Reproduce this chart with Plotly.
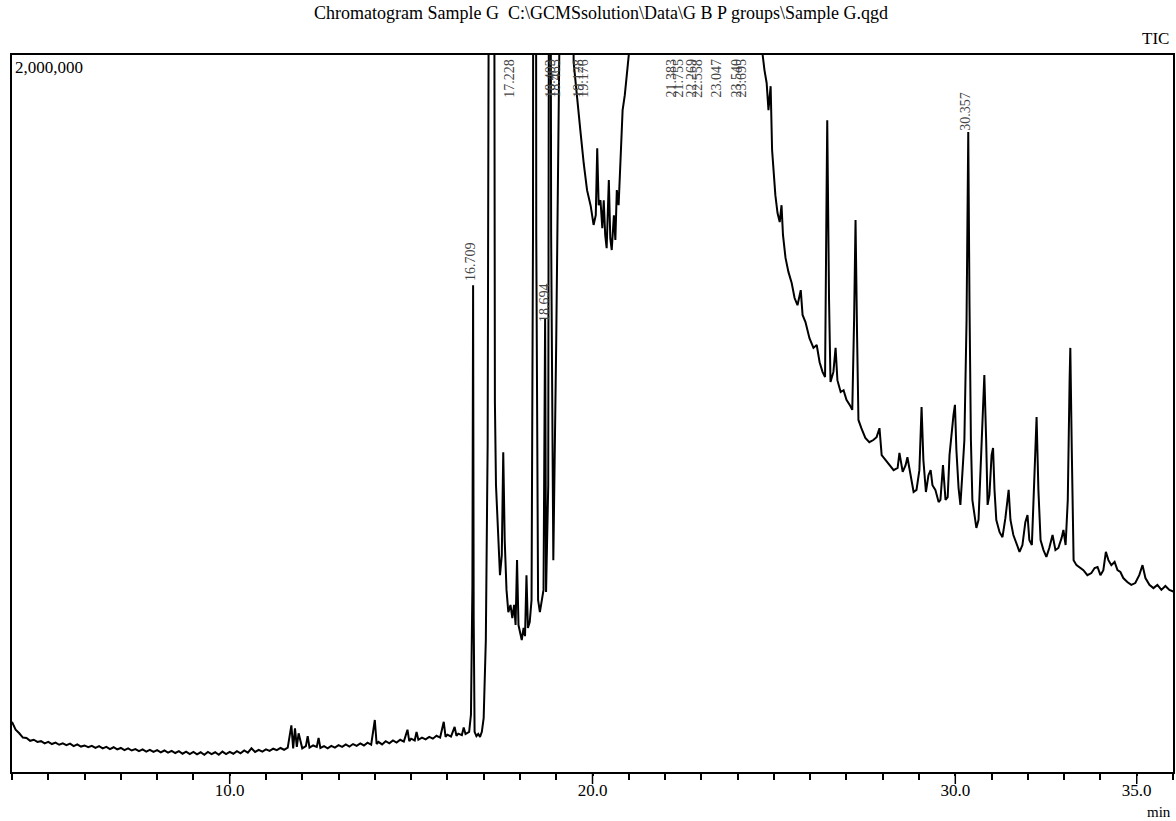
import plotly.graph_objects as go

# ---- chromatogram values (time in min, intensity in thousand counts) ----
early_t = [4.0, 4.1, 4.2, 4.3, 4.4, 4.5, 4.6, 4.7, 4.8, 4.9, 5.0, 5.1, 5.2, 5.3, 5.4, 5.5, 5.6, 5.7, 5.8, 5.9,
           6.0, 6.1, 6.2, 6.3, 6.4, 6.5, 6.6, 6.7, 6.8, 6.9, 7.0, 7.1, 7.2, 7.3, 7.4, 7.5, 7.6, 7.7, 7.8, 7.9,
           8.0, 8.1, 8.2, 8.3, 8.4, 8.5, 8.6, 8.7, 8.8, 8.9, 9.0, 9.1, 9.2, 9.3, 9.4, 9.5, 9.6, 9.7, 9.8, 9.9,
           10.0, 10.1, 10.2, 10.3, 10.4, 10.5, 10.6, 10.7, 10.8, 10.9, 11.0, 11.1, 11.2, 11.3, 11.4, 11.5, 11.6,
           11.7, 11.75, 11.8, 11.85, 11.9, 12.0, 12.1, 12.15, 12.2, 12.3, 12.4, 12.45, 12.5, 12.6, 12.7, 12.8,
           12.9, 13.0, 13.1, 13.2, 13.3, 13.4, 13.5, 13.6, 13.7, 13.8, 13.9, 14.0, 14.05, 14.1, 14.2, 14.3, 14.4,
           14.5, 14.6, 14.7, 14.8, 14.9, 14.95, 15.0, 15.1, 15.15, 15.2, 15.3, 15.4, 15.5, 15.6, 15.7, 15.8, 15.9,
           15.95, 16.0, 16.1, 16.2, 16.25, 16.3, 16.4, 16.45, 16.5, 16.6]
early_k = [140, 118, 108, 96, 95, 87, 90, 84, 86, 80, 84, 78, 82, 76, 80, 75, 79, 72, 77, 71,
           74, 69, 73, 67, 72, 66, 70, 64, 69, 63, 67, 61, 66, 60, 64, 58, 63, 57, 62, 56,
           61, 55, 60, 54, 59, 53, 58, 51, 57, 50, 56, 49, 55, 48, 56, 50, 55, 48, 57, 50,
           56, 51, 58, 52, 60, 54, 66, 56, 62, 57, 63, 59, 65, 61, 67, 62, 68,
           130, 66, 122, 70, 108, 66, 72, 100, 68, 74, 70, 95, 67, 72, 66, 73,
           68, 75, 70, 77, 71, 78, 73, 80, 74, 82, 76, 145, 78, 84, 77, 86, 80,
           88, 82, 90, 85, 118, 86, 93, 88, 112, 90, 96, 91, 98, 93, 101, 96, 140,
           98, 104, 99, 126, 101, 107, 103, 124, 106, 112]

cluster_t = [16.65, 16.69, 16.709, 16.725, 16.75, 16.8, 16.85, 16.9, 16.95, 17.0, 17.06, 17.11, 17.15, 17.228,
             17.29, 17.31, 17.34, 17.4, 17.45, 17.5, 17.54, 17.58, 17.63, 17.68, 17.74, 17.79, 17.84, 17.88,
             17.92, 17.96, 18.0, 18.05, 18.1, 18.14, 18.18, 18.22, 18.27, 18.32, 18.36, 18.403, 18.45, 18.5,
             18.55, 18.6, 18.65, 18.694, 18.72, 18.78, 18.82, 18.86, 18.92, 19.0, 19.08, 19.12, 19.2, 19.3,
             19.4, 19.48, 19.59, 19.67, 19.76, 19.85, 19.95, 20.03, 20.09, 20.13, 20.17, 20.22, 20.27, 20.31,
             20.35, 20.39, 20.45, 20.49, 20.53, 20.59, 20.63, 20.67, 20.72, 20.78, 20.83, 20.89, 20.94, 21.0, 21.08]
cluster_k = [160, 520, 1358, 430, 112, 100, 106, 98, 112, 150, 368, 915, 2500, 6000,
             2500, 1032, 800, 633, 549, 605, 892, 647, 508, 446, 466, 429, 466, 410,
             591, 410, 390, 368, 402, 379, 549, 402, 418, 480, 1500, 8000, 1500, 480,
             446, 485, 508, 1266, 502, 800, 4000, 1500, 591, 1200, 1900, 2100, 4000, 5000,
             5000, 1980, 1877, 1785, 1696, 1623, 1579, 1526, 1553, 1740, 1581, 1595, 1517, 1595,
             1498, 1461, 1651, 1489, 1456, 1553, 1484, 1623, 1581, 1735, 1846, 1888, 1944, 2000, 2300]

offscale_t = [21.3, 21.383, 21.755, 22.2, 22.5, 23.047, 23.5, 23.695, 24.2, 24.55]
offscale_k = [3500, 4200, 4800, 5200, 5400, 5000, 4200, 3800, 3000, 2300]

late_t = [24.69, 24.74, 24.80, 24.85, 24.91, 24.95, 24.99, 25.04, 25.10, 25.16, 25.21, 25.25, 25.32, 25.40,
          25.49, 25.57, 25.65, 25.74, 25.79, 25.87, 25.98, 26.09, 26.18, 26.26, 26.34, 26.41, 26.45, 26.47,
          26.52, 26.56, 26.64, 26.70, 26.75, 26.84, 26.92, 27.00, 27.09, 27.16, 27.21, 27.25, 27.29, 27.33,
          27.41, 27.52, 27.63, 27.74, 27.83, 27.91, 27.97, 28.08, 28.19, 28.30, 28.41, 28.46, 28.55, 28.63,
          28.68, 28.77, 28.85, 28.93, 29.01, 29.07, 29.12, 29.19, 29.26, 29.32, 29.37, 29.45, 29.54, 29.59,
          29.66, 29.73, 29.79, 29.84, 29.90, 29.95, 29.99, 30.03, 30.09, 30.14, 30.20, 30.25, 30.31, 30.357,
          30.39, 30.43, 30.47, 30.53, 30.58, 30.64, 30.69, 30.75, 30.80, 30.85, 30.89, 30.94, 31.00, 31.04,
          31.08, 31.13, 31.22, 31.30, 31.38, 31.47, 31.52, 31.60, 31.69, 31.77, 31.85, 31.93, 31.99, 32.04,
          32.11, 32.18, 32.24, 32.29, 32.35, 32.43, 32.51, 32.59, 32.68, 32.76, 32.84, 32.93, 32.98, 33.04,
          33.10, 33.15, 33.17, 33.21, 33.26, 33.34, 33.42, 33.53, 33.64, 33.75, 33.84, 33.92, 34.00, 34.08,
          34.15, 34.22, 34.30, 34.39, 34.47, 34.55, 34.63, 34.74, 34.85, 34.96, 35.07, 35.16, 35.24, 35.35,
          35.46, 35.57, 35.68, 35.79, 35.90, 36.04]
late_k = [2000, 1958, 1922, 1846, 1913, 1735, 1665, 1609, 1559, 1534, 1581, 1498, 1434, 1395,
          1364, 1322, 1302, 1344, 1275, 1255, 1210, 1183, 1191, 1143, 1116, 1102, 1595, 1818,
          1316, 1088, 1116, 1183, 1093, 1060, 1065, 1038, 1024, 1010, 1261, 1540, 1233, 982,
          959, 932, 920, 926, 934, 959, 884, 870, 856, 842, 848, 890, 837, 856,
          878, 820, 781, 787, 842, 1018, 870, 781, 828, 842, 800, 787, 753, 759,
          856, 759, 767, 884, 954, 996, 1024, 898, 792, 745, 842, 926, 1261, 1785,
          1316, 926, 759, 708, 681, 703, 842, 1010, 1107, 926, 745, 773, 884, 904,
          787, 703, 669, 655, 708, 787, 703, 661, 633, 614, 633, 697, 717, 647,
          633, 814, 990, 787, 647, 619, 600, 625, 661, 619, 625, 653, 675, 633,
          759, 1093, 1183, 898, 591, 577, 572, 563, 549, 555, 569, 572, 549, 563,
          614, 591, 577, 586, 563, 558, 541, 530, 522, 527, 549, 577, 541, 522,
          513, 522, 508, 519, 508, 502]

# peak retention-time labels
peak_texts = ["16.709", "17.228", "18.403", "18.465", "18.694", "19.128", "19.176",
              "21.383", "21.755", "22.269", "22.558", "23.047", "23.540", "23.695", "30.357"]

x_ticks = [10, 20, 30, 35]
x_tick_text = ["10.0", "20.0", "30.0", "35.0"]

# ---- build ----
rt = early_t + cluster_t + offscale_t + late_t
tic = [v * 1000 for v in (early_k + cluster_k + offscale_k + late_k)]

SERIF = "Liberation Serif, Times New Roman, serif"

fig = go.Figure()
fig.add_trace(go.Scatter(x=rt, y=tic, mode="lines",
                         line=dict(color="black", width=2.0), hoverinfo="skip"))

# label placement (time position, paper y of label centre)
label_place = [(16.64, 0.712), (17.72, 0.968), (18.85, 0.968), (18.99, 0.968), (18.68, 0.655),
               (19.62, 0.968), (19.76, 0.968), (22.18, 0.968), (22.37, 0.968), (22.73, 0.968),
               (22.90, 0.968), (23.42, 0.968), (23.97, 0.968), (24.11, 0.968), (30.29, 0.922)]
annotations = []
for txt, (lx, ly) in zip(peak_texts, label_place):
    annotations.append(dict(x=lx, y=ly, xref="x", yref="paper", text=txt, showarrow=False,
                            textangle=-90, xanchor="center", yanchor="middle",
                            font=dict(family=SERIF, size=14, color="#444")))

annotations += [
    dict(x=0, y=1, xref="paper", yref="paper", text="2,000,000", showarrow=False,
         xanchor="left", yanchor="top", xshift=1, yshift=-1,
         font=dict(family=SERIF, size=17, color="black")),
    dict(x=1, y=1, xref="paper", yref="paper", text="TIC", showarrow=False,
         xanchor="right", yanchor="bottom", xshift=-2, yshift=5,
         font=dict(family=SERIF, size=17, color="black")),
    dict(x=0.988, y=-0.056, xref="paper", yref="paper", text="min", showarrow=False,
         xanchor="center", yanchor="middle",
         font=dict(family=SERIF, size=15, color="black")),
]

# longer marks at the labelled ticks (the axis's own labels sit close to the axis)
shapes = [dict(type="line", xref="x", yref="paper", x0=v, x1=v, y0=0, y1=-12 / 717,
               line=dict(color="black", width=1.5)) for v in x_ticks]

minor_vals = [v for v in range(4, 37) if v not in x_ticks]

fig.update_layout(
    width=1176, height=821,
    margin=dict(l=12, r=1, t=55, b=49),
    paper_bgcolor="white", plot_bgcolor="white",
    showlegend=False,
    title=dict(text="Chromatogram Sample G  C:\\GCMSsolution\\Data\\G B P groups\\Sample G.qgd",
               x=601 / 1176, xanchor="center", y=1 - 13 / 821, yanchor="middle",
               font=dict(family=SERIF, size=18, color="black")),
    xaxis=dict(range=[4, 36], showline=True, linecolor="black", linewidth=1.5, mirror=True,
               ticks="outside", tickmode="array", tickvals=x_ticks, ticktext=x_tick_text,
               ticklen=2, tickwidth=1.5, tickcolor="black", showgrid=False, zeroline=False,
               tickfont=dict(family=SERIF, size=17, color="black"),
               minor=dict(tickmode="array", tickvals=minor_vals, ticks="outside", ticklen=6,
                          tickwidth=1.5, tickcolor="black", showgrid=False)),
    yaxis=dict(range=[0, 2000000], showline=True, linecolor="black", linewidth=1.5, mirror=True,
               ticks="", showticklabels=False, showgrid=False, zeroline=False),
    annotations=annotations,
    shapes=shapes,
)

fig.write_html("out.html", config={"displayModeBar": False},
               post_script="document.body.style.margin='0';document.body.style.overflow='hidden';")
